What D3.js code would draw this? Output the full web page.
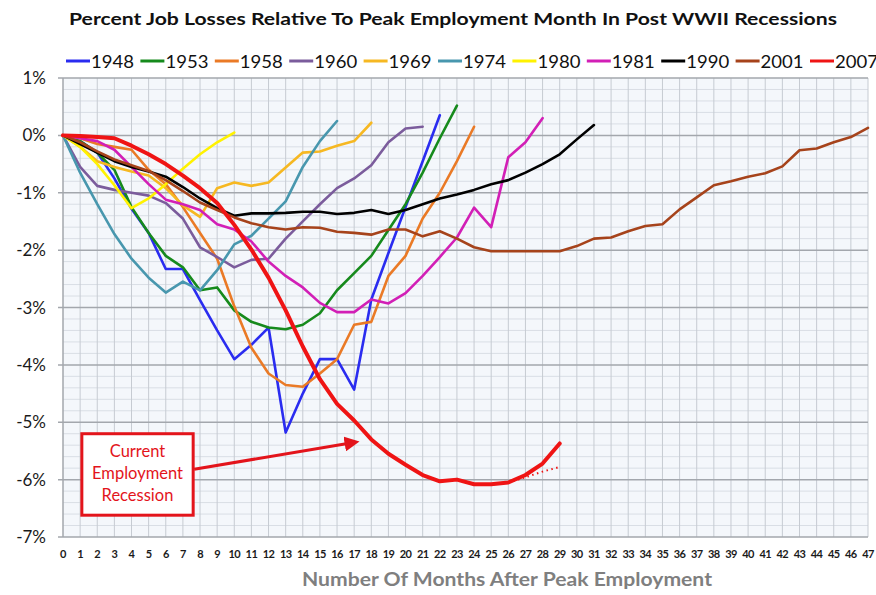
<!DOCTYPE html>
<html>
<head>
<meta charset="utf-8">
<script src="https://cdn.jsdelivr.net/npm/d3@7"></script>
<style>
html,body{margin:0;padding:0;background:#fff;}
svg{display:block;}
text{font-family:Lato,"Open Sans",sans-serif;}
</style>
</head>
<body>
<svg id="chart" width="876" height="595"></svg>
<script>
// ---- data ----
const seriesNames = ["1948","1953","1958","1960","1969","1974","1980","1981","1990","2001","2007"];
const seriesColors = ["#2a2cf0","#168a1c","#ea7a26","#7b5c9c","#f6b822","#4897ae","#fff200","#d21fb6","#000000","#a6431b","#ef1414"];
const s1948 = [0,-0.1,-0.3,-0.75,-1.28,-1.7,-2.33,-2.33,-2.87,-3.4,-3.9,-3.65,-3.35,-5.18,-4.5,-3.9,-3.9,-4.43,-2.86,-2.05,-1.25,-0.45,0.35];
const s1953 = [0,-0.1,-0.3,-0.6,-1.25,-1.7,-2.1,-2.3,-2.7,-2.65,-3.05,-3.25,-3.35,-3.38,-3.3,-3.1,-2.7,-2.4,-2.1,-1.65,-1.2,-0.65,-0.05,0.52];
const s1958 = [0,-0.05,-0.15,-0.2,-0.25,-0.6,-0.85,-1.25,-1.7,-2.15,-2.98,-3.7,-4.15,-4.35,-4.38,-4.15,-3.9,-3.3,-3.25,-2.45,-2.1,-1.45,-1.0,-0.45,0.15];
const s1960 = [0,-0.55,-0.88,-0.95,-1.0,-1.05,-1.18,-1.45,-1.95,-2.12,-2.3,-2.17,-2.15,-1.8,-1.5,-1.2,-0.92,-0.75,-0.52,-0.12,0.12,0.15];
const s1969 = [0,-0.2,-0.45,-0.55,-0.63,-0.7,-0.92,-1.22,-1.42,-0.92,-0.82,-0.88,-0.82,-0.56,-0.3,-0.28,-0.18,-0.1,0.22];
const s1974 = [0,-0.65,-1.2,-1.72,-2.15,-2.48,-2.74,-2.55,-2.7,-2.35,-1.9,-1.75,-1.45,-1.15,-0.55,-0.1,0.25];
const s1980 = [0,-0.2,-0.5,-0.87,-1.27,-1.1,-0.85,-0.58,-0.33,-0.12,0.05];
const s1981 = [0,-0.05,-0.1,-0.25,-0.55,-0.85,-1.12,-1.2,-1.3,-1.55,-1.64,-1.85,-2.2,-2.45,-2.65,-2.92,-3.08,-3.08,-2.86,-2.93,-2.75,-2.45,-2.12,-1.78,-1.26,-1.6,-0.38,-0.12,0.3];
const s1990 = [0,-0.15,-0.3,-0.45,-0.55,-0.63,-0.72,-0.9,-1.1,-1.27,-1.4,-1.36,-1.36,-1.35,-1.33,-1.33,-1.37,-1.35,-1.3,-1.37,-1.3,-1.2,-1.1,-1.03,-0.95,-0.85,-0.78,-0.65,-0.5,-0.33,-0.07,0.18];
const s2001 = [0,-0.12,-0.28,-0.42,-0.52,-0.62,-0.78,-0.97,-1.17,-1.3,-1.43,-1.53,-1.6,-1.64,-1.6,-1.61,-1.68,-1.7,-1.73,-1.64,-1.64,-1.76,-1.67,-1.8,-1.95,-2.02,-2.02,-2.02,-2.02,-2.02,-1.93,-1.8,-1.78,-1.67,-1.58,-1.55,-1.29,-1.08,-0.87,-0.8,-0.72,-0.66,-0.54,-0.26,-0.23,-0.12,-0.03,0.13];
const s2007 = [0,-0.01,-0.03,-0.05,-0.18,-0.33,-0.5,-0.7,-0.92,-1.18,-1.56,-1.99,-2.48,-3.05,-3.68,-4.25,-4.68,-4.97,-5.3,-5.55,-5.74,-5.92,-6.03,-6.0,-6.08,-6.08,-6.05,-5.92,-5.72,-5.37];
const projMonths = [26,27,28,29];
const projValues = [-6.05,-5.96,-5.86,-5.78];
const yTicks = [1,0,-1,-2,-3,-4,-5,-6,-7];
const xTicks = d3.range(0,48);
const titleText = "Percent Job Losses Relative To Peak Employment Month In Post WWII Recessions";
const xTitle = "Number Of Months After Peak Employment";
const annLines = ["Current","Employment","Recession"];

const allSeries = [s1948,s1953,s1958,s1960,s1969,s1974,s1980,s1981,s1990,s2001,s2007];

// ---- layout ----
const svg = d3.select("#chart");
const x = d3.scaleLinear().domain([0,47]).range([63,868]);
const y = d3.scaleLinear().domain([-7,1]).range([537,78]);

// plot background
svg.append("rect").attr("x",x(0)).attr("y",y(1)).attr("width",x(47)-x(0)).attr("height",y(-7)-y(1)).attr("fill","#f4f7fb");

// minor horizontal grid (0.2%)
const minorY = d3.range(-7,1.001,0.2).map(v=>Math.round(v*10)/10).filter(v=>Math.abs(v-Math.round(v))>0.01);
svg.append("g").selectAll("line").data(minorY).join("line")
  .attr("x1",x(0)).attr("x2",x(47)).attr("y1",d=>y(d)).attr("y2",d=>y(d))
  .attr("stroke","#d9dee5").attr("stroke-width",1);
// vertical month grid
svg.append("g").selectAll("line").data(xTicks.slice(1)).join("line")
  .attr("x1",d=>x(d)).attr("x2",d=>x(d)).attr("y1",y(1)).attr("y2",y(-7))
  .attr("stroke","#c6cbd2").attr("stroke-width",1);
// major horizontal grid
svg.append("g").selectAll("line").data(yTicks).join("line")
  .attr("x1",x(0)-5).attr("x2",x(47)).attr("y1",d=>y(d)).attr("y2",d=>y(d))
  .attr("stroke","#a3a7ad").attr("stroke-width",1.5);
// left axis line
svg.append("line").attr("x1",x(0)).attr("x2",x(0)).attr("y1",y(1)).attr("y2",y(-7)).attr("stroke","#a3a7ad").attr("stroke-width",1.5);

// y labels
svg.append("g").selectAll("text").data(yTicks).join("text")
  .attr("x",46).attr("y",d=>y(d)).attr("dy","0.36em").attr("text-anchor","end")
  .attr("font-size",17).attr("fill","#1a1a1a").text(d=>d+"%");
// x labels
svg.append("g").selectAll("text").data(xTicks).join("text")
  .attr("x",d=>x(d)).attr("y",558).attr("text-anchor","middle")
  .attr("font-size",11).attr("font-weight","bold").attr("fill","#1a1a1a")
  .attr("letter-spacing",-0.6).text(d=>d);

// title
svg.append("text").attr("x",453).attr("y",25).attr("text-anchor","middle")
  .attr("font-size",17.5).attr("font-weight","bold").attr("fill","#111")
  .attr("textLength",768).attr("lengthAdjust","spacingAndGlyphs").text(titleText);
// x title
svg.append("text").attr("x",507).attr("y",586).attr("text-anchor","middle")
  .attr("font-size",18).attr("font-weight","bold").attr("fill","#7f7f7f")
  .attr("textLength",410).attr("lengthAdjust","spacingAndGlyphs").text(xTitle);

// legend
const leg = svg.append("g").selectAll("g").data(seriesNames).join("g")
  .attr("transform",(d,i)=>`translate(${66+i*74.4},0)`);
leg.append("line").attr("x1",0).attr("x2",24).attr("y1",61).attr("y2",61)
  .attr("stroke",(d,i)=>seriesColors[i]).attr("stroke-width",3);
leg.append("text").attr("x",25).attr("y",68).attr("font-size",18).attr("fill","#111")
  .attr("textLength",43).attr("lengthAdjust","spacingAndGlyphs").text(d=>d);

// lines
const line = d3.line().x((d,i)=>x(i)).y(d=>y(d)).curve(d3.curveLinear);
const lg = svg.append("g").attr("fill","none").attr("stroke-linejoin","round").attr("stroke-linecap","round");
allSeries.forEach((s,i)=>{
  const is07 = seriesNames[i]==="2007";
  lg.append("path").datum(s).attr("d",line)
    .attr("stroke",seriesColors[i]).attr("stroke-width",is07?4:2.6);
});
// projection dotted
const projLine = d3.line().x(d=>x(d[0])).y(d=>y(d[1]));
lg.append("path").datum(projMonths.map((m,i)=>[m,projValues[i]])).attr("d",projLine)
  .attr("stroke","#ef1414").attr("stroke-width",2).attr("stroke-dasharray","1.5,3.5").attr("stroke-linecap","butt");

// annotation
const bx0 = x(1.1), bx1 = x(7.6), by0 = y(-5.2), by1 = y(-6.62);
svg.append("rect").attr("x",bx0).attr("y",by0).attr("width",bx1-bx0).attr("height",by1-by0)
  .attr("fill","#fff").attr("stroke","#e3141b").attr("stroke-width",3);
svg.append("g").selectAll("text").data(annLines).join("text")
  .attr("x",(bx0+bx1)/2).attr("y",(d,i)=>by0+23+i*22).attr("text-anchor","middle")
  .attr("font-size",16.5).attr("fill","#e3141b").text(d=>d);
// arrow
const ax0 = bx1+1, ay0 = y(-5.82), ax1 = x(17.2), ay1 = y(-5.34);
svg.append("defs").append("marker").attr("id","arr").attr("viewBox","0 0 10 10")
  .attr("refX",6).attr("refY",5).attr("markerWidth",5).attr("markerHeight",5).attr("orient","auto")
  .append("path").attr("d","M0,0 L10,5 L0,10 z").attr("fill","#e3141b");
svg.append("line").attr("x1",ax0).attr("y1",ay0).attr("x2",ax1-4).attr("y2",ay1+0.7)
  .attr("stroke","#e3141b").attr("stroke-width",3).attr("marker-end","url(#arr)");
</script>
</body>
</html>
